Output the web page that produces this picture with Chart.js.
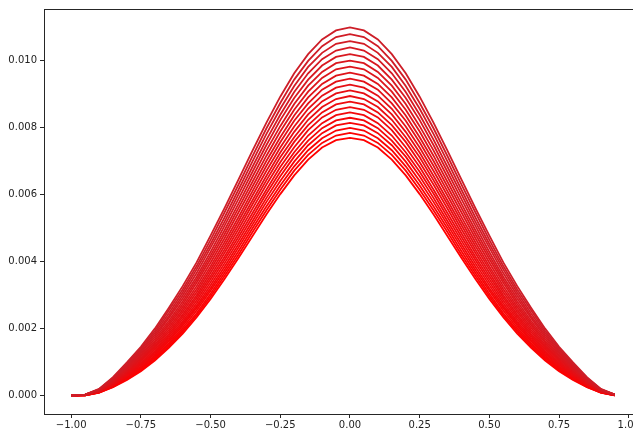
<!DOCTYPE html>
<html>
<head>
<meta charset="utf-8">
<script src="https://cdn.jsdelivr.net/npm/chart.js@4.4.1/dist/chart.umd.min.js"></script>
<style>
  html, body { margin: 0; padding: 0; background: #fff; overflow: hidden; width: 633px; height: 430px; }
  canvas { display: block; }
</style>
</head>
<body>
<canvas id="c" width="660" height="430"></canvas>
<script>
// x positions of the samples
const xValues = [-1.00,-0.95,-0.90,-0.85,-0.80,-0.75,-0.70,-0.65,-0.60,-0.55,-0.50,-0.45,-0.40,-0.35,-0.30,-0.25,-0.20,-0.15,-0.10,-0.05,
                  0.00, 0.05, 0.10, 0.15, 0.20, 0.25, 0.30, 0.35, 0.40, 0.45, 0.50, 0.55, 0.60, 0.65, 0.70, 0.75, 0.80, 0.85, 0.90, 0.95];

// tick values and labels
const xTicks = [-1.00,-0.75,-0.50,-0.25,0.00,0.25,0.50,0.75,1.00];
const xTickLabels = ["\u22121.00","\u22120.75","\u22120.50","\u22120.25","0.00","0.25","0.50","0.75","1.00"];
const yTicks = [0.000,0.002,0.004,0.006,0.008,0.010];
const yTickLabels = ["0.000","0.002","0.004","0.006","0.008","0.010"];

// curve values (one array per line, from highest peak to lowest)
const line01 = [0,0.00003,0.00020,0.00055,0.00099,0.00146,0.00200,0.00262,0.00327,0.00398,0.00478,0.00560,0.00645,0.00731,0.00815,0.00893,0.00963,0.01020,0.01064,0.01091,0.01100,0.01091,0.01064,0.01020,0.00963,0.00893,0.00815,0.00731,0.00645,0.00560,0.00478,0.00398,0.00327,0.00262,0.00200,0.00146,0.00099,0.00055,0.00020,0.00003];
const line02 = [0,0.00003,0.00019,0.00053,0.00095,0.00141,0.00193,0.00254,0.00317,0.00387,0.00465,0.00547,0.00630,0.00715,0.00798,0.00874,0.00944,0.01000,0.01044,0.01071,0.01080,0.01071,0.01044,0.01000,0.00944,0.00874,0.00798,0.00715,0.00630,0.00547,0.00465,0.00387,0.00317,0.00254,0.00193,0.00141,0.00095,0.00053,0.00019,0.00003];
const line03 = [0,0.00003,0.00018,0.00051,0.00091,0.00136,0.00187,0.00245,0.00308,0.00377,0.00453,0.00532,0.00615,0.00699,0.00781,0.00857,0.00925,0.00982,0.01024,0.01051,0.01059,0.01051,0.01024,0.00982,0.00925,0.00857,0.00781,0.00699,0.00615,0.00532,0.00453,0.00377,0.00308,0.00245,0.00187,0.00136,0.00091,0.00051,0.00018,0.00003];
const line04 = [0,0.00003,0.00018,0.00049,0.00089,0.00131,0.00181,0.00237,0.00299,0.00366,0.00442,0.00519,0.00601,0.00683,0.00764,0.00839,0.00907,0.00963,0.01005,0.01031,0.01040,0.01031,0.01005,0.00963,0.00907,0.00839,0.00764,0.00683,0.00601,0.00519,0.00442,0.00366,0.00299,0.00237,0.00181,0.00131,0.00089,0.00049,0.00018,0.00003];
const line05 = [0,0.00003,0.00016,0.00047,0.00085,0.00127,0.00175,0.00231,0.00290,0.00355,0.00429,0.00507,0.00587,0.00668,0.00748,0.00823,0.00889,0.00944,0.00986,0.01012,0.01020,0.01012,0.00986,0.00944,0.00889,0.00823,0.00748,0.00668,0.00587,0.00507,0.00429,0.00355,0.00290,0.00231,0.00175,0.00127,0.00085,0.00047,0.00016,0.00003];
const line06 = [0,0.00003,0.00016,0.00045,0.00082,0.00122,0.00169,0.00223,0.00281,0.00346,0.00418,0.00494,0.00573,0.00653,0.00732,0.00805,0.00871,0.00926,0.00967,0.00993,0.01001,0.00993,0.00967,0.00926,0.00871,0.00805,0.00732,0.00653,0.00573,0.00494,0.00418,0.00346,0.00281,0.00223,0.00169,0.00122,0.00082,0.00045,0.00016,0.00003];
const line07 = [0,0.00003,0.00015,0.00043,0.00078,0.00118,0.00163,0.00216,0.00273,0.00337,0.00408,0.00482,0.00560,0.00638,0.00716,0.00789,0.00854,0.00908,0.00949,0.00975,0.00983,0.00975,0.00949,0.00908,0.00854,0.00789,0.00716,0.00638,0.00560,0.00482,0.00408,0.00337,0.00273,0.00216,0.00163,0.00118,0.00078,0.00043,0.00015,0.00003];
const line08 = [0,0.00002,0.00014,0.00041,0.00076,0.00113,0.00158,0.00210,0.00265,0.00327,0.00397,0.00470,0.00547,0.00624,0.00701,0.00772,0.00837,0.00891,0.00931,0.00956,0.00965,0.00956,0.00931,0.00891,0.00837,0.00772,0.00701,0.00624,0.00547,0.00470,0.00397,0.00327,0.00265,0.00210,0.00158,0.00113,0.00076,0.00041,0.00014,0.00002];
const line09 = [0,0.00002,0.00014,0.00039,0.00073,0.00110,0.00152,0.00203,0.00257,0.00318,0.00386,0.00458,0.00533,0.00610,0.00686,0.00757,0.00821,0.00873,0.00914,0.00938,0.00947,0.00938,0.00914,0.00873,0.00821,0.00757,0.00686,0.00610,0.00533,0.00458,0.00386,0.00318,0.00257,0.00203,0.00152,0.00110,0.00073,0.00039,0.00014,0.00002];
const line10 = [0,0.00002,0.00014,0.00038,0.00070,0.00106,0.00147,0.00196,0.00250,0.00309,0.00377,0.00447,0.00521,0.00597,0.00671,0.00741,0.00804,0.00857,0.00896,0.00920,0.00929,0.00920,0.00896,0.00857,0.00804,0.00741,0.00671,0.00597,0.00521,0.00447,0.00377,0.00309,0.00250,0.00196,0.00147,0.00106,0.00070,0.00038,0.00014,0.00002];
const line11 = [0,0.00002,0.00012,0.00037,0.00067,0.00102,0.00143,0.00190,0.00242,0.00300,0.00367,0.00436,0.00509,0.00583,0.00656,0.00726,0.00788,0.00840,0.00879,0.00903,0.00912,0.00903,0.00879,0.00840,0.00788,0.00726,0.00656,0.00583,0.00509,0.00436,0.00367,0.00300,0.00242,0.00190,0.00143,0.00102,0.00067,0.00037,0.00012,0.00002];
const line12 = [0,0.00002,0.00012,0.00035,0.00065,0.00098,0.00138,0.00184,0.00235,0.00292,0.00357,0.00426,0.00497,0.00571,0.00643,0.00712,0.00772,0.00824,0.00862,0.00886,0.00895,0.00886,0.00862,0.00824,0.00772,0.00712,0.00643,0.00571,0.00497,0.00426,0.00357,0.00292,0.00235,0.00184,0.00138,0.00098,0.00065,0.00035,0.00012,0.00002];
const line13 = [0,0.00002,0.00012,0.00034,0.00062,0.00095,0.00133,0.00179,0.00228,0.00284,0.00348,0.00415,0.00485,0.00558,0.00630,0.00697,0.00758,0.00808,0.00846,0.00870,0.00878,0.00870,0.00846,0.00808,0.00758,0.00697,0.00630,0.00558,0.00485,0.00415,0.00348,0.00284,0.00228,0.00179,0.00133,0.00095,0.00062,0.00034,0.00012,0.00002];
const line14 = [0,0.00002,0.00012,0.00032,0.00060,0.00092,0.00129,0.00173,0.00221,0.00276,0.00339,0.00405,0.00474,0.00545,0.00615,0.00683,0.00742,0.00793,0.00831,0.00854,0.00862,0.00854,0.00831,0.00793,0.00742,0.00683,0.00615,0.00545,0.00474,0.00405,0.00339,0.00276,0.00221,0.00173,0.00129,0.00092,0.00060,0.00032,0.00012,0.00002];
const line15 = [0,0.00002,0.00011,0.00031,0.00058,0.00088,0.00125,0.00167,0.00215,0.00268,0.00330,0.00395,0.00463,0.00533,0.00603,0.00669,0.00727,0.00777,0.00814,0.00838,0.00846,0.00838,0.00814,0.00777,0.00727,0.00669,0.00603,0.00533,0.00463,0.00395,0.00330,0.00268,0.00215,0.00167,0.00125,0.00088,0.00058,0.00031,0.00011,0.00002];
const line16 = [0,0.00001,0.00010,0.00030,0.00056,0.00085,0.00120,0.00163,0.00209,0.00262,0.00321,0.00385,0.00452,0.00521,0.00590,0.00655,0.00714,0.00762,0.00799,0.00822,0.00830,0.00822,0.00799,0.00762,0.00714,0.00655,0.00590,0.00521,0.00452,0.00385,0.00321,0.00262,0.00209,0.00163,0.00120,0.00085,0.00056,0.00030,0.00010,0.00001];
const line17 = [0,0.00001,0.00010,0.00029,0.00053,0.00082,0.00116,0.00157,0.00202,0.00254,0.00313,0.00375,0.00442,0.00510,0.00578,0.00641,0.00699,0.00748,0.00784,0.00807,0.00815,0.00807,0.00784,0.00748,0.00699,0.00641,0.00578,0.00510,0.00442,0.00375,0.00313,0.00254,0.00202,0.00157,0.00116,0.00082,0.00053,0.00029,0.00010,0.00001];
const line18 = [0,0.00001,0.00009,0.00027,0.00051,0.00079,0.00113,0.00152,0.00196,0.00246,0.00304,0.00366,0.00431,0.00499,0.00565,0.00628,0.00685,0.00733,0.00769,0.00792,0.00800,0.00792,0.00769,0.00733,0.00685,0.00628,0.00565,0.00499,0.00431,0.00366,0.00304,0.00246,0.00196,0.00152,0.00113,0.00079,0.00051,0.00027,0.00009,0.00001];
const line19 = [0,0.00001,0.00009,0.00026,0.00050,0.00076,0.00109,0.00148,0.00191,0.00240,0.00297,0.00357,0.00421,0.00488,0.00553,0.00615,0.00672,0.00719,0.00755,0.00777,0.00785,0.00777,0.00755,0.00719,0.00672,0.00615,0.00553,0.00488,0.00421,0.00357,0.00297,0.00240,0.00191,0.00148,0.00109,0.00076,0.00050,0.00026,0.00009,0.00001];
const line20 = [0,0.00001,0.00009,0.00025,0.00047,0.00073,0.00105,0.00143,0.00185,0.00234,0.00289,0.00348,0.00411,0.00476,0.00541,0.00602,0.00658,0.00705,0.00741,0.00763,0.00770,0.00763,0.00741,0.00705,0.00658,0.00602,0.00541,0.00476,0.00411,0.00348,0.00289,0.00234,0.00185,0.00143,0.00105,0.00073,0.00047,0.00025,0.00009,0.00001];

const lines = [line01,line02,line03,line04,line05,line06,line07,line08,line09,line10,
               line11,line12,line13,line14,line15,line16,line17,line18,line19,line20];

const n = lines.length;
const datasets = lines.map((ys, k) => {
  const t = k / (n - 1);
  const r = Math.round(205 + (255 - 205) * t);
  const g = Math.round(30 * (1 - t));
  const b = Math.round(40 * (1 - t));
  return {
    data: ys.map((y, i) => ({ x: xValues[i], y: y })),
    borderColor: `rgb(${r},${g},${b})`,
    borderWidth: 1.8,
    pointRadius: 0,
    tension: 0,
    fill: false
  };
});

const frame = {
  id: 'frame',
  afterDraw(chart) {
    const a = chart.chartArea;
    const ctx = chart.ctx;
    ctx.save();
    ctx.strokeStyle = '#262626';
    ctx.lineWidth = 1;
    ctx.strokeRect(Math.round(a.left) + 0.5, Math.round(a.top) + 0.5,
                   Math.round(a.right - a.left), Math.round(a.bottom - a.top));
    ctx.restore();
  }
};

const tickFont = { family: "'DejaVu Sans', sans-serif", size: 10 };

new Chart(document.getElementById('c'), {
  type: 'line',
  data: { datasets },
  plugins: [frame],
  options: {
    responsive: false,
    animation: false,
    devicePixelRatio: 1,
    layout: { padding: { left: 0, top: 8, right: 18, bottom: 0 } },
    plugins: { legend: { display: false }, tooltip: { enabled: false } },
    scales: {
      x: {
        type: 'linear',
        min: -1.0975,
        max: 1.0475,
        afterBuildTicks: (s) => { s.ticks = xTicks.map(v => ({ value: v })); },
        afterFit: (s) => { s.height = 16; },
        ticks: {
          autoSkip: false,
          maxRotation: 0,
          padding: 1,
          color: '#222',
          font: tickFont,
          callback: (v) => { const i = xTicks.findIndex(t => Math.abs(t - v) < 1e-9); return i >= 0 ? xTickLabels[i] : ''; }
        },
        grid: { display: true, drawOnChartArea: false, drawTicks: true, tickLength: 4, tickColor: '#262626' },
        border: { display: false }
      },
      y: {
        type: 'linear',
        min: -0.00055,
        max: 0.01155,
        afterBuildTicks: (s) => { s.ticks = yTicks.map(v => ({ value: v })); },
        afterFit: (s) => { s.width = 44; },
        ticks: {
          autoSkip: false,
          padding: 3,
          color: '#222',
          font: tickFont,
          callback: (v) => { const i = yTicks.findIndex(t => Math.abs(t - v) < 1e-9); return i >= 0 ? yTickLabels[i] : ''; }
        },
        grid: { display: true, drawOnChartArea: false, drawTicks: true, tickLength: 4, tickColor: '#262626' },
        border: { display: false }
      }
    }
  }
});
</script>
</body>
</html>
